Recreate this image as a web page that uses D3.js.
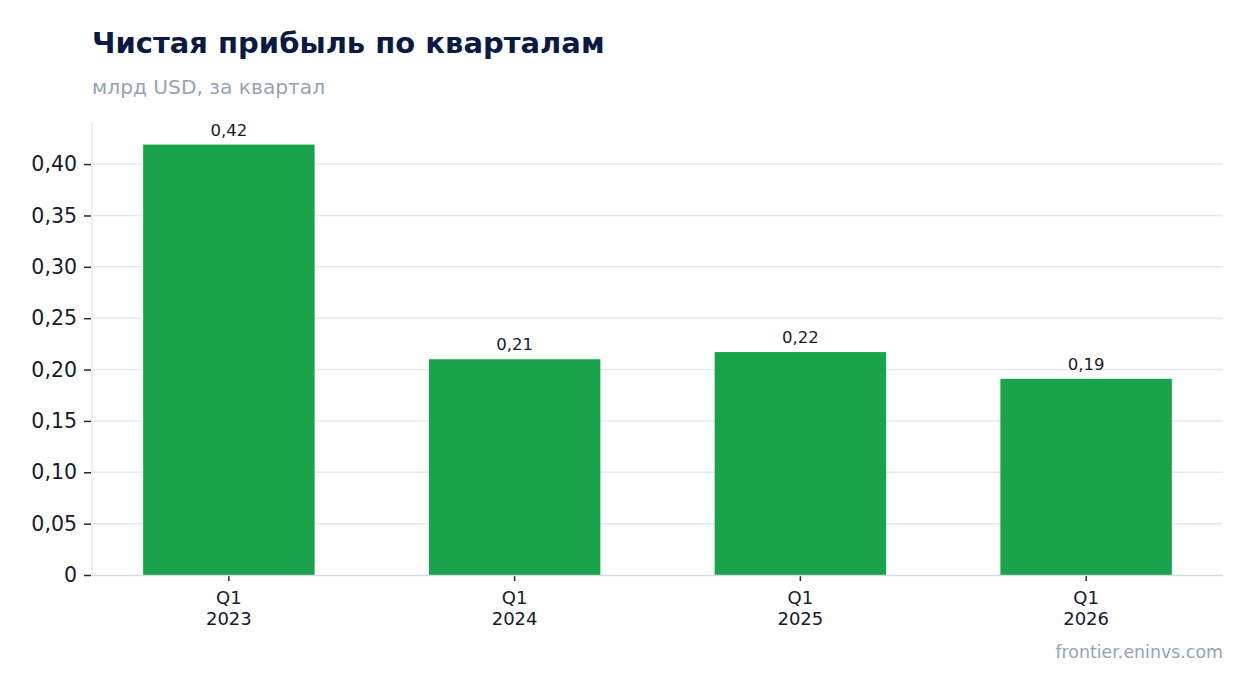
<!DOCTYPE html>
<html>
<head>
<meta charset="utf-8">
<script src="https://cdn.jsdelivr.net/npm/d3@7"></script>
<style>
  body { margin: 0; background: #fff; }
  svg { font-family: "DejaVu Sans", sans-serif; }
</style>
</head>
<body>
<svg></svg>
<script>
let quarters = ["Q1", "Q1", "Q1", "Q1"];
let years = ["2023", "2024", "2025", "2026"];
let profit = [0.419, 0.210, 0.217, 0.191];
let labels = ["0,42", "0,21", "0,22", "0,19"];
let yTicks = [0, 0.05, 0.10, 0.15, 0.20, 0.25, 0.30, 0.35, 0.40];

let width = 1254;
let height = 693;
let plotLeft = 92, plotRight = 1223, plotTop = 123, plotBottom = 575;

let svg = d3.select("svg").attr("width", width).attr("height", height);

let xScale = d3.scaleBand()
    .domain(years)
    .range([86, 1229])
    .paddingInner(0.4)
    .paddingOuter(0.2);

let yScale = d3.scaleLinear()
    .domain([0, 0.44])
    .range([plotBottom, plotTop]);

let fmt = d => d === 0 ? "0" : d3.format(".2f")(d).replace(".", ",");

// gridlines
svg.append("g")
    .selectAll("line")
    .data(yTicks.filter(d => d > 0))
    .enter()
    .append("line")
    .attr("x1", plotLeft)
    .attr("x2", plotRight)
    .attr("y1", d => yScale(d))
    .attr("y2", d => yScale(d))
    .attr("stroke", "#e5e8ef")
    .attr("stroke-width", 1.5);

// left axis line
svg.append("line")
    .attr("x1", plotLeft).attr("x2", plotLeft)
    .attr("y1", plotTop).attr("y2", plotBottom)
    .attr("stroke", "#e5e8ef").attr("stroke-width", 1.5);

// bars
svg.selectAll("rect.bar")
    .data(profit)
    .enter()
    .append("rect")
    .attr("class", "bar")
    .attr("x", (d, i) => xScale(years[i]))
    .attr("width", xScale.bandwidth())
    .attr("y", d => yScale(d))
    .attr("height", d => plotBottom - yScale(d))
    .attr("fill", "#19a34a");

// value labels
svg.selectAll("text.val")
    .data(profit)
    .enter()
    .append("text")
    .attr("class", "val")
    .attr("x", (d, i) => xScale(years[i]) + xScale.bandwidth() / 2)
    .attr("y", d => yScale(d) - 9)
    .attr("text-anchor", "middle")
    .attr("font-size", 16.5)
    .attr("fill", "#161b2e")
    .text((d, i) => labels[i]);

// y axis
let yAxis = d3.axisLeft(yScale).tickValues(yTicks).tickFormat(fmt).tickSize(7).tickPadding(7);
let yg = svg.append("g")
    .attr("transform", "translate(" + (plotLeft - 1) + ",0)")
    .call(yAxis);
yg.select(".domain").remove();
yg.selectAll(".tick line").attr("stroke", "#1f2937").attr("stroke-width", 1.5);
yg.selectAll(".tick text").attr("font-size", 20.5).attr("fill", "#161b2e")
    .attr("font-family", "DejaVu Sans, sans-serif");

// x axis
let xAxis = d3.axisBottom(xScale).tickSize(5).tickPadding(8).tickFormat(() => "");
let xg = svg.append("g")
    .attr("transform", "translate(0," + (plotBottom + 1) + ")")
    .call(xAxis);
xg.select(".domain").remove();
xg.selectAll(".tick line").attr("stroke", "#1f2937").attr("stroke-width", 1.5);
xg.selectAll(".tick text").remove();

svg.append("line")
    .attr("x1", plotLeft).attr("x2", plotRight)
    .attr("y1", plotBottom + 0.5).attr("y2", plotBottom + 0.5)
    .attr("stroke", "#d6dae3").attr("stroke-width", 1.5);

// two-line category labels
let cat = svg.selectAll("text.cat")
    .data(years)
    .enter()
    .append("text")
    .attr("class", "cat")
    .attr("text-anchor", "middle")
    .attr("font-size", 18)
    .attr("fill", "#161b2e");
cat.append("tspan")
    .attr("x", d => xScale(d) + xScale.bandwidth() / 2)
    .attr("y", 604)
    .text((d, i) => quarters[i]);
cat.append("tspan")
    .attr("x", d => xScale(d) + xScale.bandwidth() / 2)
    .attr("y", 625)
    .text(d => d);

// titles
svg.append("text")
    .attr("x", 92).attr("y", 53)
    .attr("font-size", 29).attr("font-weight", "bold")
    .attr("fill", "#0c1a43")
    .text("Чистая прибыль по кварталам");

svg.append("text")
    .attr("x", 92).attr("y", 94)
    .attr("font-size", 20.2)
    .attr("fill", "#94a3b8")
    .text("млрд USD, за квартал");

svg.append("text")
    .attr("x", 1223).attr("y", 658)
    .attr("text-anchor", "end")
    .attr("font-size", 17.4)
    .attr("fill", "#94a3b8")
    .text("frontier.eninvs.com");
</script>
</body>
</html>
